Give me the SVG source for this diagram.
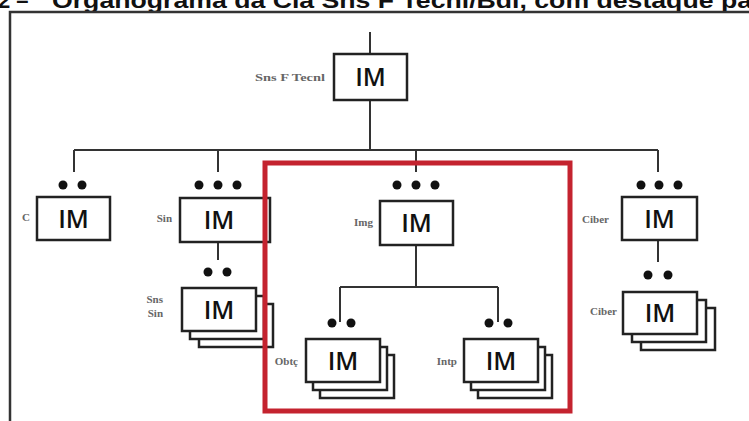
<svg xmlns="http://www.w3.org/2000/svg" width="749" height="421" viewBox="0 0 749 421">
<style>
.ln{stroke:#333;stroke-width:2;fill:none}
.bx{fill:#fff;stroke:#222;stroke-width:2.5}
.im{font-family:"Open Sans","Liberation Sans",sans-serif;font-size:25px;font-weight:600;fill:#111;text-anchor:middle}
.lb{font-family:"Liberation Serif",serif;font-weight:bold;font-size:11px;fill:#666;text-anchor:end}
.dot{fill:#111}
.ttl{font-family:"Liberation Sans",Arial,sans-serif;font-weight:bold;font-size:22px;fill:#111}
</style>
<rect width="749" height="421" fill="#fff"/>
<text class="ttl" x="-2" y="8">2 –</text>
<text class="ttl" x="52" y="8" textLength="700" lengthAdjust="spacingAndGlyphs">Organograma da Cia Sns F Tecnl/Bdl, com destaque pa</text>
<rect x="10" y="12" width="760" height="440" fill="none" stroke="#333" stroke-width="2.5"/>

<g id="connectors">
<path class="ln" d="M370 32V54M370 100V150M74 150H658M74 150V172M218 150V172M416 150V172M658 150V172"/>
<path class="ln" d="M218 242V260M416 245V287M340 287H498M340 287V322M498 287V322M658 240V262"/>
</g>

<g id="n-snsftecnl">
<rect class="bx" x="334" y="54" width="73" height="46"/>
<text class="im" x="370.5" y="86">IM</text>
<text class="lb" x="325" y="81" textLength="70" lengthAdjust="spacingAndGlyphs">Sns F Tecnl</text>
</g>

<g id="n-c">
<circle class="dot" cx="63" cy="185" r="4.5"/><circle class="dot" cx="82" cy="185" r="4.5"/>
<rect class="bx" x="37" y="197" width="73" height="43"/>
<text class="im" x="73.5" y="228">IM</text>
<text class="lb" x="30" y="221">C</text>
</g>

<g id="n-sin">
<circle class="dot" cx="199" cy="185" r="4.5"/><circle class="dot" cx="218" cy="185" r="4.5"/><circle class="dot" cx="237" cy="185" r="4.5"/>
<rect class="bx" x="180" y="198" width="90" height="44"/>
<text class="im" x="219" y="229">IM</text>
<text class="lb" x="172" y="222">Sin</text>
</g>

<g id="n-snssin">
<circle class="dot" cx="208" cy="272" r="4.5"/><circle class="dot" cx="227" cy="272" r="4.5"/>
<rect class="bx" x="199" y="304" width="74" height="43"/>
<rect class="bx" x="190" y="296" width="74" height="43"/>
<rect class="bx" x="182" y="288" width="74" height="43"/>
<text class="im" x="219" y="319">IM</text>
<text class="lb" x="163" y="303">Sns</text>
<text class="lb" x="163" y="317">Sin</text>
</g>

<g id="n-img">
<circle class="dot" cx="397" cy="185" r="4.5"/><circle class="dot" cx="416" cy="185" r="4.5"/><circle class="dot" cx="435" cy="185" r="4.5"/>
<rect class="bx" x="380" y="201" width="73" height="44"/>
<text class="im" x="416.5" y="232">IM</text>
<text class="lb" x="373" y="226">Img</text>
</g>

<g id="n-obtc">
<circle class="dot" cx="332" cy="323" r="4.5"/><circle class="dot" cx="351" cy="323" r="4.5"/>
<rect class="bx" x="320" y="355" width="74" height="43"/>
<rect class="bx" x="313" y="347" width="74" height="43"/>
<rect class="bx" x="306" y="339" width="74" height="43"/>
<text class="im" x="343" y="370">IM</text>
<text class="lb" x="298" y="365">Obtç</text>
</g>

<g id="n-intp">
<circle class="dot" cx="489" cy="323" r="4.5"/><circle class="dot" cx="508" cy="323" r="4.5"/>
<rect class="bx" x="478" y="355" width="74" height="43"/>
<rect class="bx" x="471" y="347" width="74" height="43"/>
<rect class="bx" x="464" y="339" width="74" height="43"/>
<text class="im" x="501" y="370">IM</text>
<text class="lb" x="457" y="365">Intp</text>
</g>

<g id="n-ciber">
<circle class="dot" cx="641" cy="185" r="4.5"/><circle class="dot" cx="659" cy="185" r="4.5"/><circle class="dot" cx="678" cy="185" r="4.5"/>
<rect class="bx" x="622" y="197" width="75" height="43"/>
<text class="im" x="659.5" y="228">IM</text>
<text class="lb" x="609" y="223">Ciber</text>
</g>

<g id="n-ciber2">
<circle class="dot" cx="648" cy="275" r="4.5"/><circle class="dot" cx="668" cy="275" r="4.5"/>
<rect class="bx" x="641" y="308" width="74" height="42"/>
<rect class="bx" x="632" y="300" width="74" height="42"/>
<rect class="bx" x="623" y="292" width="74" height="42"/>
<text class="im" x="660" y="322">IM</text>
<text class="lb" x="617" y="315">Ciber</text>
</g>

<rect id="highlight" x="265" y="163" width="305" height="248" fill="none" stroke="#c4232f" stroke-width="5"/>
</svg>
